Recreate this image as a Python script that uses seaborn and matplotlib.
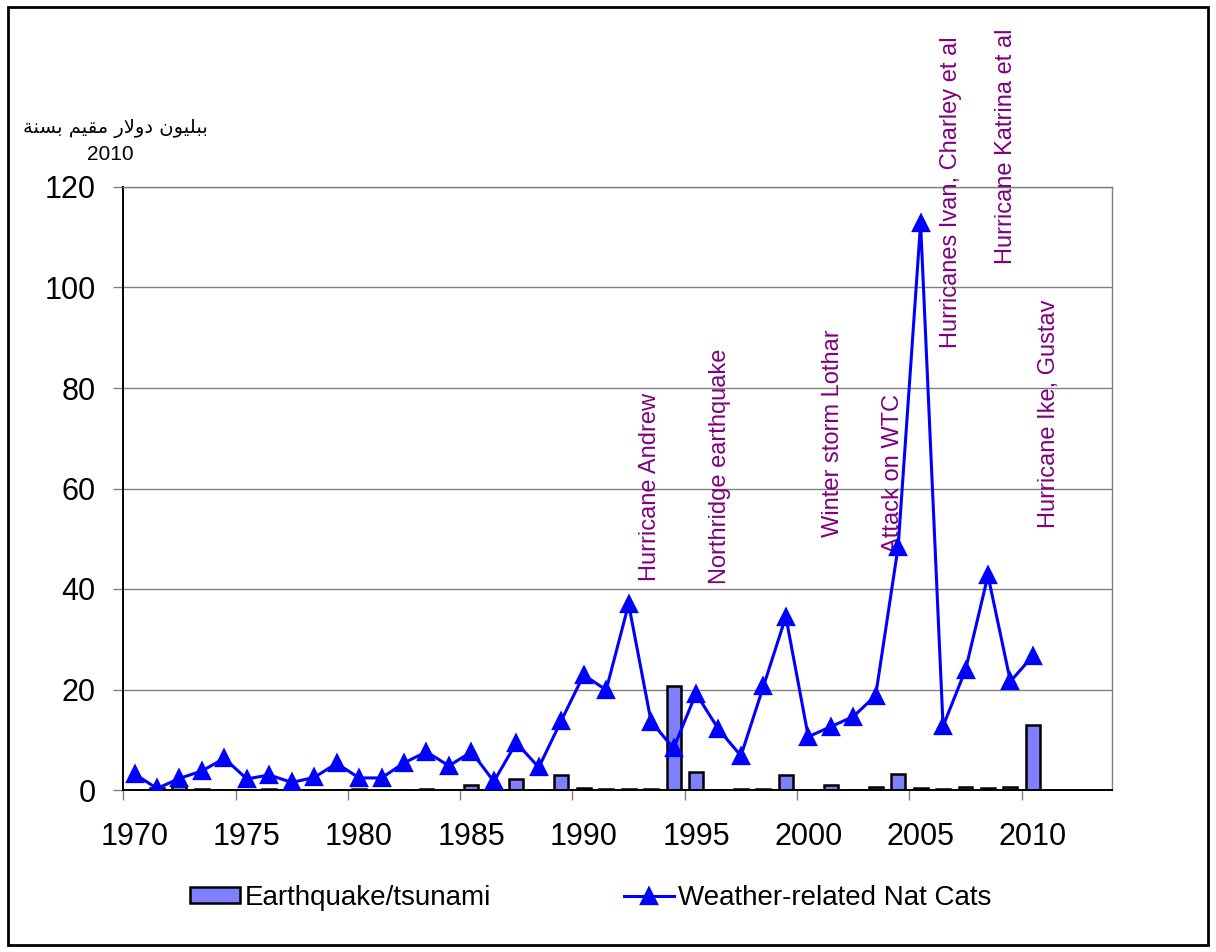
import matplotlib
matplotlib.use("Agg")
import matplotlib.pyplot as plt
import seaborn as sns
from matplotlib.patches import Rectangle

# ---- data -------------------------------------------------------------
axis_years = [str(y) for y in range(1970, 2014)]
data_years = [str(y) for y in range(1970, 2011)]
tick_years = [str(y) for y in range(1970, 2011, 5)]

earthquake = [0.0, 0.3, 0.8, 0.1, 0.0, 0.0, 0.2, 0.0, 0.0, 0.0,
              0.2, 0.0, 0.0, 0.1, 0.0, 1.0, 0.4, 2.1, 0.0, 2.9,
              0.3, 0.1, 0.1, 0.1, 20.6, 3.5, 0.0, 0.1, 0.1, 3.0,
              0.05, 0.9, 0.0, 0.5, 3.2, 0.3, 0.2, 0.5, 0.4, 0.6, 13.0]
weather = [3.2, 0.3, 2.3, 3.8, 6.3, 2.2, 3.0, 1.5, 2.5, 5.3,
           2.4, 2.4, 5.4, 7.6, 4.8, 7.6, 1.7, 9.4, 4.5, 13.8,
           22.9, 19.9, 37.0, 13.6, 8.3, 19.2, 12.1, 6.8, 20.6, 34.5,
           10.6, 12.6, 14.6, 18.8, 48.4, 112.8, 12.7, 23.9, 42.7, 21.6, 26.7]

series_names = ["Earthquake/tsunami", "Weather-related Nat Cats"]
events = ["Hurricane Andrew", "Northridge earthquake", "Winter storm Lothar",
          "Attack on WTC", "Hurricanes Ivan, Charley et al",
          "Hurricane Katrina et al", "Hurricane Ike, Gustav"]
unit_label = "ببليون دولار مقيم بسنة"
unit_year = "2010"

# ---- minimal Arabic shaping (contextual forms + RTL ordering) ----------
_FORMS = {  # isolated, final, initial, medial ; dual-joining flag
    'ب': ('\uFE8F', '\uFE90', '\uFE91', '\uFE92', True),
    'ل': ('\uFEDD', '\uFEDE', '\uFEDF', '\uFEE0', True),
    'ي': ('\uFEF1', '\uFEF2', '\uFEF3', '\uFEF4', True),
    'ن': ('\uFEE5', '\uFEE6', '\uFEE7', '\uFEE8', True),
    'م': ('\uFEE1', '\uFEE2', '\uFEE3', '\uFEE4', True),
    'ق': ('\uFED5', '\uFED6', '\uFED7', '\uFED8', True),
    'س': ('\uFEB1', '\uFEB2', '\uFEB3', '\uFEB4', True),
    'و': ('\uFEED', '\uFEEE', '\uFEED', '\uFEEE', False),
    'د': ('\uFEA9', '\uFEAA', '\uFEA9', '\uFEAA', False),
    'ا': ('\uFE8D', '\uFE8E', '\uFE8D', '\uFE8E', False),
    'ر': ('\uFEAD', '\uFEAE', '\uFEAD', '\uFEAE', False),
    'ة': ('\uFE93', '\uFE94', '\uFE93', '\uFE94', False),
}


def shape_arabic(text):
    out = []
    i = 0
    n = len(text)
    while i < n:
        ch = text[i]
        if ch not in _FORMS:
            out.append(ch)
            i += 1
            continue
        prev = text[i - 1] if i > 0 else ''
        joins_prev = prev in _FORMS and _FORMS[prev][4]
        nxt = text[i + 1] if i + 1 < n else ''
        if ch == 'ل' and nxt == 'ا':
            out.append('\uFEFC' if joins_prev else '\uFEFB')
            i += 2
            continue
        joins_next = _FORMS[ch][4] and nxt in _FORMS
        iso, fin, ini, med, _ = _FORMS[ch]
        if joins_prev and joins_next:
            out.append(med)
        elif joins_prev:
            out.append(fin)
        elif joins_next:
            out.append(ini)
        else:
            out.append(iso)
        i += 1
    return ''.join(reversed(out))


# ---- figure -----------------------------------------------------------
W, H = 1216, 952
fig = plt.figure(figsize=(W / 100, H / 100), dpi=100)
plt.rcParams['font.family'] = ['Liberation Sans', 'DejaVu Sans']

left, right, top, bottom = 123.3, 1111.5, 187.0, 790.0
ax = fig.add_axes([left / W, 1 - bottom / H, (right - left) / W, (bottom - top) / H])

sns.barplot(x=data_years, y=earthquake, order=axis_years, color='#8080FF',
            saturation=1, edgecolor='black', linewidth=1.8, width=0.62,
            label=series_names[0], ax=ax, zorder=2)
sns.pointplot(x=data_years, y=weather, order=axis_years, color='#0000FF',
              markers='^', markersize=11, linewidth=2.2, errorbar=None,
              label=series_names[1], ax=ax, zorder=4)
if ax.get_legend() is not None:
    ax.get_legend().remove()

ax.set_xlim(-0.5, len(axis_years) - 0.5)
ax.set_ylim(0, 120)
ax.set_yticks(range(0, 121, 20))
ax.set_xticks([axis_years.index(t) for t in tick_years])
ax.set_xticklabels(tick_years)
ax.set_xticks([axis_years.index(t) - 0.5 for t in tick_years], minor=True)
ax.set_xlabel('')
ax.set_ylabel('')

ax.yaxis.grid(True, color='#808080', linewidth=1.0)
ax.xaxis.grid(False)
ax.set_axisbelow(True)
for side in ('left', 'bottom'):
    ax.spines[side].set_color('black')
    ax.spines[side].set_linewidth(1.4)
for side in ('right', 'top'):
    ax.spines[side].set_color('#808080')
    ax.spines[side].set_linewidth(1.0)

ax.tick_params(axis='y', direction='out', length=7, width=1, color='#808080',
               pad=13, labelsize=22)
ax.tick_params(axis='x', which='major', length=0, pad=23, labelsize=22)
ax.tick_params(axis='x', which='minor', direction='out', length=7, width=1,
               color='#808080')

# event annotations (x in category units, y in data units)
event_pos = [(22.95, 41.6), (26.07, 40.9), (31.1, 50.3), (33.77, 47.2),
             (36.35, 88.0), (38.8, 104.7), (40.7, 52.1)]
for name, (ex, ey) in zip(events, event_pos):
    ax.text(ex, ey, name, rotation=90, ha='center', va='bottom',
            color='#800080', fontsize=17, zorder=3, clip_on=False)

# unit label above the value axis
fig.text(115 / W, 1 - 128 / H, shape_arabic(unit_label), ha='center',
         va='center', fontsize=14, family=['DejaVu Sans'])
fig.text(110 / W, 1 - 155 / H, unit_year, ha='center', va='center',
         fontsize=15)

handles, labels = ax.get_legend_handles_labels()
order = [labels.index(s) for s in series_names]
fig.legend([handles[k] for k in order], [labels[k] for k in order],
           loc='center', bbox_to_anchor=(591 / W, 1 - 898 / H),
           ncol=2, frameon=False, fontsize=20, handlelength=1.8,
           handleheight=0.5, handletextpad=0.15, columnspacing=4.8)

# outer chart frame
fig.patches.append(Rectangle((8 / W, 7 / H), (1208 - 8) / W, (945 - 7) / H,
                             transform=fig.transFigure, fill=False,
                             edgecolor='black', linewidth=2))

fig.savefig('out.png', dpi=100)
